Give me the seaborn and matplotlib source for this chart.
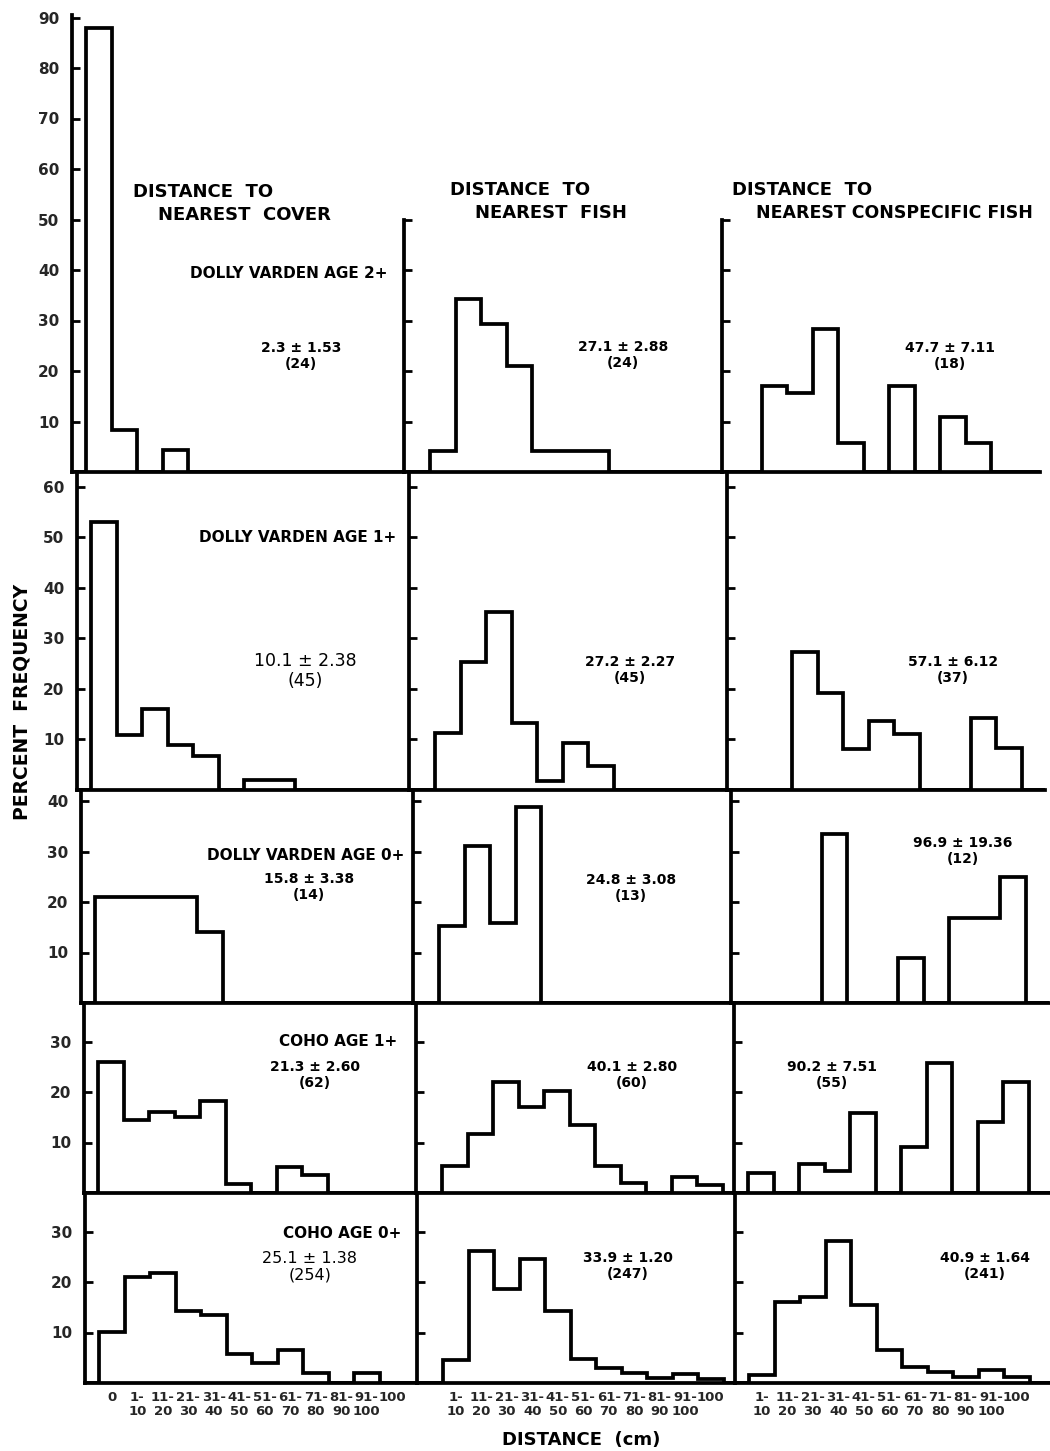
import numpy as np
import pandas as pd
import matplotlib
matplotlib.use("Agg")
import matplotlib.pyplot as plt
import seaborn as sns

# distance classes (cm)
cover_bins = ["0", "1-10", "11-20", "21-30", "31-40", "41-50", "51-60",
              "61-70", "71-80", "81-90", "91-100", "100"]
fish_bins = cover_bins[1:]

groups = ["DOLLY VARDEN AGE 2+", "DOLLY VARDEN AGE 1+", "DOLLY VARDEN AGE 0+",
          "COHO AGE 1+", "COHO AGE 0+"]

# percent frequency, nearest cover
cover_dv2 = [88.0, 8.3, 0, 4.4, 0, 0, 0, 0, 0, 0, 0, 0]
cover_dv1 = [53.0, 10.9, 16.0, 8.9, 6.7, 0, 2.0, 2.0, 0, 0, 0, 0]
cover_dv0 = [20.9, 20.9, 20.9, 20.9, 14.0, 0, 0, 0, 0, 0, 0, 0]
cover_c1 = [25.9, 14.4, 16.1, 15.0, 18.2, 1.8, 0, 5.2, 3.6, 0, 0, 0]
cover_c0 = [10.1, 21.0, 21.8, 14.2, 13.5, 5.8, 4.0, 6.5, 2.0, 0, 2.0, 0]

# percent frequency, nearest fish
fish_dv2 = [4.2, 34.3, 29.4, 21.0, 4.2, 4.2, 4.2, 0, 0, 0, 0]
fish_dv1 = [11.2, 25.4, 35.2, 13.2, 1.8, 9.3, 4.7, 0, 0, 0, 0]
fish_dv0 = [15.3, 31.0, 15.9, 38.8, 0, 0, 0, 0, 0, 0, 0]
fish_c1 = [5.3, 11.6, 22.0, 17.0, 20.2, 13.4, 5.3, 1.9, 0, 3.1, 1.6]
fish_c0 = [4.5, 26.2, 18.7, 24.5, 14.3, 4.8, 2.9, 1.9, 0.9, 1.8, 0.7]

# percent frequency, nearest conspecific fish
consp_dv2 = [0, 17.0, 15.7, 28.4, 5.8, 0, 17.0, 0, 10.9, 5.8, 0]
consp_dv1 = [0, 0, 27.3, 19.2, 8.2, 13.6, 11.0, 0, 0, 14.3, 8.3]
consp_dv0 = [0, 0, 0, 33.4, 0, 0, 9.0, 0, 16.8, 16.8, 24.9]
consp_c1 = [4.0, 0, 5.8, 4.3, 15.8, 0, 9.1, 25.8, 0, 14.1, 21.9]
consp_c0 = [1.5, 16.0, 17.1, 28.2, 15.5, 6.5, 3.2, 2.1, 1.1, 2.5, 1.1]

cover_mean = [2.3, 10.1, 15.8, 21.3, 25.1]
cover_se = [1.53, 2.38, 3.38, 2.60, 1.38]
cover_n = [24, 45, 14, 62, 254]
fish_mean = [27.1, 27.2, 24.8, 40.1, 33.9]
fish_se = [2.88, 2.27, 3.08, 2.80, 1.20]
fish_n = [24, 45, 13, 60, 247]
consp_mean = [47.7, 57.1, 96.9, 90.2, 40.9]
consp_se = [7.11, 6.12, 19.36, 7.51, 1.64]
consp_n = [18, 37, 12, 55, 241]

measures = ["cover", "fish", "consp"]
series = {
    "cover": [cover_dv2, cover_dv1, cover_dv0, cover_c1, cover_c0],
    "fish": [fish_dv2, fish_dv1, fish_dv0, fish_c1, fish_c0],
    "consp": [consp_dv2, consp_dv1, consp_dv0, consp_c1, consp_c0],
}
stats = {
    "cover": (cover_mean, cover_se, cover_n),
    "fish": (fish_mean, fish_se, fish_n),
    "consp": (consp_mean, consp_se, consp_n),
}
class_labels = {"cover": cover_bins, "fish": fish_bins, "consp": fish_bins}
first_class = {"cover": 0, "fish": 1, "consp": 1}

rows = []
for m in measures:
    for g, vals in zip(groups, series[m]):
        for i, v in enumerate(vals):
            rows.append({"measure": m, "group": g, "pos": first_class[m] + i, "pct": v})
df = pd.DataFrame(rows)

# ---- layout (pixels of the 1050 x 1451 page) ----
W, H = 1050, 1451
PX = 5.05      # pixels per percent
BW = 25.5      # pixels per distance class
col_x = [78, 410, 728, 1046]
col_gap = [14, 26, 14]
row_shift = [-6, -1, 3, 6, 7]   # the scanned page is slightly skewed
baselines = [472, 790, 1003, 1193, 1383]
tops = [15, 472, 790, 1003, 1193]
LW = 2.7

stat_pos = [
    [(301, 356), (623, 355), (950, 356)],
    [(305, 671), (630, 670), (953, 670)],
    [(309, 887), (631, 888), (963, 851)],
    [(315, 1075), (632, 1075), (832, 1075)],
    [(310, 1267), (628, 1266), (985, 1266)],
]
stat_size = [[10, 10, 10], [12.5, 10, 10], [10, 10, 10], [10, 10, 10], [11.5, 10, 10]]
group_pos = [(388, 273), (396, 537), (404, 855), (397, 1042), (401, 1233)]

sns.set_theme(style="white")
plt.rcParams["font.family"] = ["DejaVu Sans"]
plt.rcParams["text.color"] = "black"

fig = plt.figure(figsize=(W / 100, H / 100), dpi=100)
fig.patch.set_facecolor("white")


def put(x, y, s, **kw):
    fig.text(x / W, 1 - y / H, s, **kw)


for r, g in enumerate(groups):
    base = baselines[r]
    for c, m in enumerate(measures):
        x0, x1 = col_x[c] + row_shift[r], col_x[c + 1] + row_shift[r]
        top = tops[r]
        if r == 0 and c > 0:
            top = base - 50 * PX
        ax = fig.add_axes([x0 / W, 1 - base / H, (x1 - x0) / W, (base - top) / H])
        ax.patch.set_visible(False)

        sub = df[(df["measure"] == m) & (df["group"] == g)]
        sns.histplot(data=sub, x="pos", weights="pct", binwidth=1, binrange=(-2.5, 12.5),
                     element="step", fill=False, color="black", linewidth=LW, ax=ax)
        for ln in ax.lines:
            ln.set_solid_joinstyle("miter")

        left = first_class[m] - 0.5 - col_gap[c] / BW
        ax.set_xlim(left, left + (x1 - x0) / BW)
        ymax = (base - top) / PX
        ax.set_ylim(0, ymax)
        ax.set_xlabel("")
        ax.set_ylabel("")

        for side in ["top", "right"]:
            ax.spines[side].set_visible(False)
        for side in ["left", "bottom"]:
            ax.spines[side].set_linewidth(LW)
            ax.spines[side].set_color("black")

        ax.set_yticks(np.arange(10, ymax + 0.01, 10))
        ax.tick_params(axis="y", direction="in", length=6, width=2, color="black",
                       left=True, labelleft=(c == 0), labelsize=11, pad=9)
        for t in ax.get_yticklabels():
            t.set_fontweight("bold")

        pos = np.arange(first_class[m], 12)
        ax.set_xticks(pos)
        if r == len(groups) - 1:
            labs = [b.replace("-", "-\n") for b in class_labels[m]]
            ax.set_xticklabels(labs, fontsize=9.5, fontweight="bold", linespacing=1.05,
                               va="top")
        else:
            ax.set_xticklabels([])
        ax.tick_params(axis="x", length=0, pad=6)

        mean, se, n = stats[m]
        sx, sy = stat_pos[r][c]
        size = stat_size[r][c]
        put(sx, sy, f"{mean[r]:.1f} ± {se[r]:.2f}\n({n[r]})", ha="center", va="center",
            fontsize=size, fontweight="normal" if size > 11 else "bold", linespacing=1.15)

    gx, gy = group_pos[r]
    put(gx, gy, g, ha="right", va="center", fontsize=11, fontweight="bold")

# column headings
head_kw = dict(ha="left", va="center", fontsize=13, fontweight="bold")
put(133, 192, "DISTANCE  TO", **head_kw)
put(158, 215, "NEAREST  COVER", **head_kw)
put(450, 190, "DISTANCE  TO", **head_kw)
put(475, 213, "NEAREST  FISH", **head_kw)
put(732, 190, "DISTANCE  TO", **head_kw)
put(756, 213, "NEAREST CONSPECIFIC FISH", **dict(head_kw, fontsize=12.5))

put(22, 702, "PERCENT  FREQUENCY", ha="center", va="center", rotation=90,
    fontsize=13.5, fontweight="bold")
put(581, 1440, "DISTANCE  (cm)", ha="center", va="center", fontsize=13, fontweight="bold")

fig.savefig("out.png", dpi=100, facecolor="white")
